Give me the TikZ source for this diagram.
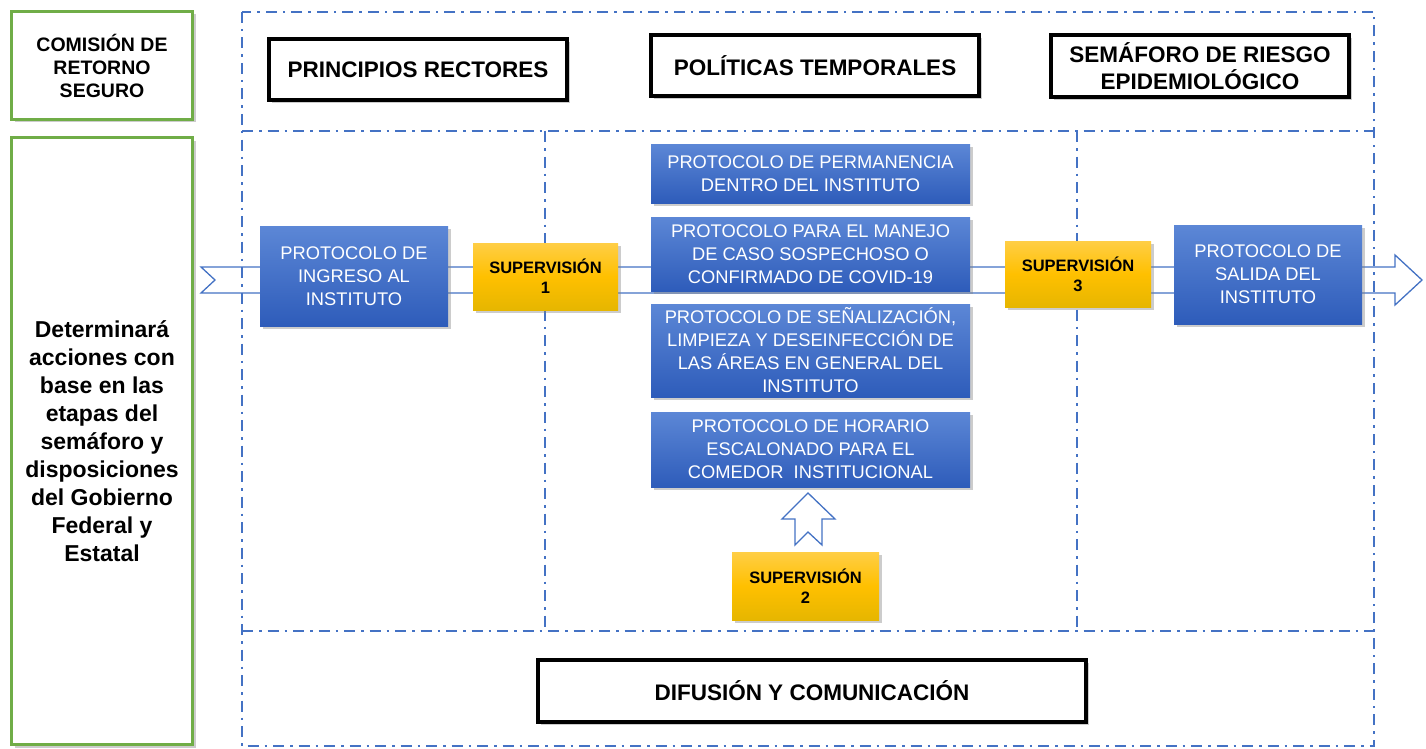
\documentclass[tikz,border=0pt]{standalone}
\usepackage{fontspec}
\setmainfont{Liberation Sans}
\usepackage{xcolor}
\usepackage{tikz}
\usetikzlibrary{positioning}
\usetikzlibrary{shadows}
\definecolor{marcoazul}{RGB}{68,114,196}
\definecolor{verdecom}{RGB}{112,173,71}
\definecolor{protarriba}{RGB}{92,135,214}
\definecolor{protabajo}{RGB}{46,92,186}
\definecolor{suparriba}{RGB}{255,206,70}
\definecolor{supmedio}{RGB}{255,192,0}
\definecolor{supabajo}{RGB}{230,182,0}
\newcommand{\mizq}{242}
\newcommand{\mder}{1374}
\newcommand{\marriba}{12}
\newcommand{\mabajo}{746}
\newcommand{\lineaa}{131}
\newcommand{\lineab}{631}
\newcommand{\cola}{545}
\newcommand{\colb}{1077}
\tikzset{
	sombra/.style={drop shadow={shadow xshift=3pt,shadow yshift=-3pt,opacity=0.4}},
	comisionbox/.style={draw=verdecom, line width=3pt, fill=white, sombra, align=center, inner sep=0pt,
		font=\fontsize{19.5}{23}\selectfont\bfseries},
	titulobox/.style={draw=black, line width=4pt, fill=white, sombra, align=center, inner sep=0pt,
		font=\fontsize{22.5}{27}\selectfont\bfseries},
	protocolobox/.style={top color=protarriba, bottom color=protabajo, draw=none, text=white, sombra,
		align=center, inner sep=0pt, font=\fontsize{18.3}{23}\selectfont},
	supervisionbox/.style={top color=suparriba, bottom color=supabajo, middle color=supmedio, draw=none,
		sombra, align=center, inner sep=0pt, font=\fontsize{16.5}{20}\selectfont\bfseries},
	marco/.style={draw=marcoazul, line width=2.3pt, dash pattern=on 11pt off 6pt on 2.5pt off 6pt},
	flecha/.style={draw=marcoazul, line width=1.3pt, fill=white, line join=miter}
}
\begin{document}
\begin{tikzpicture}[x=1pt, y=-1pt]
	\useasboundingbox (0,0) rectangle (1426,749);

	\draw[flecha] (201,267) -- (1395,267) -- (1395,255) -- (1422,280) -- (1395,305) -- (1395,293)
		-- (201,293) -- (215,280) -- cycle;
	\draw[flecha] (808,493) -- (835,519) -- (822,519) -- (822,545) -- (808,532) -- (795,545)
		-- (795,519) -- (782,519) -- cycle;

	\draw[marco] (\mizq,\marriba) rectangle (\mder,\mabajo);
	\draw[marco] (\mizq,\lineaa) -- (\mder,\lineaa);
	\draw[marco] (\mizq,\lineab) -- (\mder,\lineab);
	\draw[marco] (\cola,\lineaa) -- (\cola,\lineab);
	\draw[marco] (\colb,\lineaa) -- (\colb,\lineab);

	\node[comisionbox, minimum width=181pt, minimum height=108pt] (comision) at (102,65.5)
		{COMISIÓN DE\\RETORNO\\SEGURO};
	\node[comisionbox, minimum width=181pt, minimum height=607pt, font=\fontsize{23}{28}\selectfont\bfseries]
		(acciones) at (102,441)
		{Determinará\\acciones con\\base en las\\etapas del\\semáforo y\\disposiciones\\del Gobierno\\Federal y\\Estatal};

	\node[titulobox, minimum width=298pt, minimum height=61pt] (principios) at (418,69.5) {PRINCIPIOS RECTORES};
	\node[titulobox, minimum width=328pt, minimum height=61pt] (politicas) at (815,65.5) {POLÍTICAS TEMPORALES};
	\node[titulobox, minimum width=298pt, minimum height=62pt] (semaforo) at (1200,66)
		{SEMÁFORO DE RIESGO\\EPIDEMIOLÓGICO};
	\node[titulobox, minimum width=548pt, minimum height=62pt] (difusion) at (812,691) {DIFUSIÓN Y COMUNICACIÓN};

	\node[protocolobox, minimum width=188pt, minimum height=100pt] (ingreso) at (354,276)
		{PROTOCOLO DE\\INGRESO AL\\INSTITUTO};
	\node[protocolobox, minimum width=188pt, minimum height=99pt] (salida) at (1268,274.5)
		{PROTOCOLO DE\\SALIDA DEL\\INSTITUTO};
	\node[protocolobox, minimum width=319pt, minimum height=59pt] (permanencia) at (810.5,173.5)
		{PROTOCOLO DE PERMANENCIA\\DENTRO DEL INSTITUTO};
	\node[protocolobox, minimum width=319pt, minimum height=74pt] (manejo) at (810.5,254)
		{PROTOCOLO PARA EL MANEJO\\DE CASO SOSPECHOSO O\\CONFIRMADO DE COVID-19};
	\node[protocolobox, minimum width=319pt, minimum height=93pt] (senalizacion) at (810.5,350.5)
		{PROTOCOLO DE SEÑALIZACIÓN,\\LIMPIEZA Y DESEINFECCIÓN DE\\LAS ÁREAS EN GENERAL DEL\\INSTITUTO};
	\node[protocolobox, minimum width=319pt, minimum height=75pt] (horario) at (810.5,449.5)
		{PROTOCOLO DE HORARIO\\ESCALONADO PARA EL\\COMEDOR\ \ INSTITUCIONAL};

	\node[supervisionbox, minimum width=145pt, minimum height=67pt] (supuno) at (545.5,276.5) {SUPERVISIÓN\\1};
	\node[supervisionbox, minimum width=147pt, minimum height=68pt] (supdos) at (805.5,586) {SUPERVISIÓN\\2};
	\node[supervisionbox, minimum width=146pt, minimum height=66pt] (suptres) at (1078,274) {SUPERVISIÓN\\3};
\end{tikzpicture}
\end{document}
